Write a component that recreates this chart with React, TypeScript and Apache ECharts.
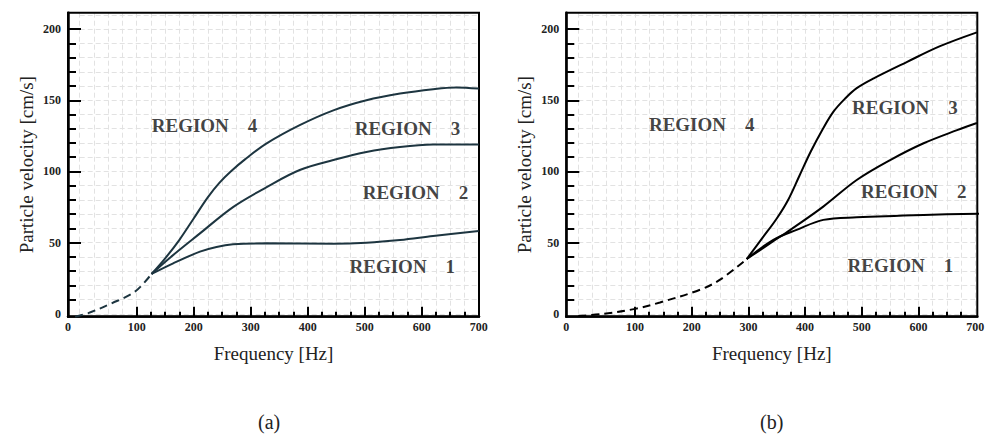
import React, { useEffect, useRef } from "react";
import * as echarts from "echarts";

// ---- tick / label values ----
const xLabelValues = [100, 200, 300, 400, 500, 600, 700];
const xMajorTicks = [100, 200, 300, 400, 500, 600];
const xMinorTicks = [125, 150, 175, 225, 250, 275, 325, 350, 375, 425, 450, 475, 525, 550, 575, 625, 650, 675];
const yLabelValues = [0, 50, 100, 150, 200];
const yMajorTicks = [50, 100, 150, 200];
const yMinorTicks = [10, 20, 30, 40, 60, 70, 80, 90, 110, 120, 130, 140, 160, 170, 180, 190];

const regionNames = ["REGION    1", "REGION    2", "REGION    3", "REGION    4"];

// ---- chart (a) ----
const aDashed = [[-8, -2], [15, 0.5], [56, 7.4], [97, 15.6], [126, 28]];
const aCurve1 = [[126, 28], [164, 35.5], [211, 43.7], [240, 47], [269, 48.8], [328, 49.5], [445, 49.3], [503, 50], [562, 51.9], [620, 54.7], [700, 58.2]];
const aCurve2 = [[126, 28], [160, 40], [211, 56.5], [269, 75], [328, 89], [386, 101], [445, 108], [503, 113.7], [562, 117.2], [620, 118.9], [700, 119]];
const aCurve3 = [[126, 28], [150, 39], [175, 52], [200, 67], [225, 82], [245, 92], [265, 100], [290, 108.5], [328, 119.7], [386, 132.5], [445, 142.9], [503, 150], [562, 154.7], [620, 157.8], [660, 159], [700, 158.2]];
const aRegionPos = [[566, 33.6], [589, 85], [575, 130.5], [219, 132]];

// ---- chart (b) ----
const bDashed = [[0, -1.5], [44, 0], [100, 3.5], [144, 8], [215, 17], [250, 24], [297, 38.5]];
const bCurve1 = [[297, 38.5], [344, 52], [385, 59], [432, 66], [491, 67.8], [609, 69.5], [712, 70.3]];
const bCurve2 = [[297, 38.5], [340, 50], [374, 59], [432, 75.3], [491, 94], [550, 108], [609, 119.8], [668, 129], [703, 134]];
const bCurve3 = [[297, 38.5], [326, 54], [350, 67], [370, 80], [390, 97], [410, 114], [430, 129], [450, 142], [470, 151], [491, 158.5], [521, 165.4], [580, 177], [638, 188], [703, 197.7]];
const bRegionPos = [[568, 33.8], [591.5, 85.8], [576, 144.8], [217.6, 132.7]];

const FONT = "'Liberation Serif', 'Times New Roman', serif";
const Y_MIN = -2;
const Y_MAX = 211.5;
const BOX_TOP = 12.7;
const BOX_H = 304;
const BOX_W = 411;

type Cfg = {
  left: number;
  xMin: number;
  xMax: number;
  color: string;
  dashed: number[][];
  curves: number[][][];
  regionPos: number[][];
};

function build(k: number, cfg: Cfg) {
  const pxX = BOX_W / (cfg.xMax - cfg.xMin);
  const pxY = BOX_H / (Y_MAX - Y_MIN);
  const grid = [
    {
      left: cfg.left, top: BOX_TOP, width: BOX_W, height: BOX_H, z: 2,
      show: true, borderColor: "#000", borderWidth: 2, backgroundColor: "transparent",
      containLabel: false, outerBoundsMode: "none",
    },
    {
      left: cfg.left + -cfg.xMin * pxX, top: BOX_TOP, width: cfg.xMax * pxX, height: Y_MAX * pxY,
      show: false, containLabel: false, outerBoundsMode: "none",
    },
    {
      left: cfg.left, top: BOX_TOP, width: BOX_W, height: BOX_H,
      show: false, containLabel: false, outerBoundsMode: "none",
    },
  ];
  const g = 3 * k;
  const labelStyle = { fontFamily: FONT, fontWeight: "bold", fontSize: 12, color: "#222" };
  const split = { show: true, lineStyle: { color: "#e2e2e2", type: [5, 3], width: 1 } };
  const xAxis = [
    {
      gridIndex: g, type: "value", min: cfg.xMin, max: cfg.xMax, z: 3,
      axisLine: { show: true, onZero: false, lineStyle: { color: "#000", width: 2.5 } },
      axisTick: { show: true, inside: true, length: 10, customValues: xMajorTicks, lineStyle: { color: "#000", width: 2 } },
      axisLabel: { ...labelStyle, margin: 4, customValues: [cfg.xMin, ...xLabelValues], formatter: (v: number) => (v < 50 ? "0" : String(v)) },
      splitLine: { show: false },
      name: "Frequency [Hz]", nameLocation: "middle", nameGap: 27,
      nameTextStyle: { fontFamily: FONT, fontSize: 19, color: "#222" },
    },
    {
      gridIndex: g + 1, type: "value", min: 0, max: cfg.xMax, interval: 25, z: -1,
      axisLine: { show: false, onZero: false }, axisTick: { show: false }, axisLabel: { show: false }, splitLine: split,
    },
    {
      gridIndex: g + 2, type: "value", min: cfg.xMin, max: cfg.xMax, z: 3,
      axisLine: { show: false, onZero: false },
      axisTick: { show: true, inside: true, length: 5, customValues: xMinorTicks, lineStyle: { color: "#000", width: 2 } },
      axisLabel: { show: false }, splitLine: { show: false },
    },
  ];
  const yAxis = [
    {
      gridIndex: g, type: "value", min: Y_MIN, max: Y_MAX, z: 3,
      axisLine: { show: true, onZero: false, lineStyle: { color: "#000", width: 2.5 } },
      axisTick: { show: true, inside: true, length: 13, customValues: yMajorTicks, lineStyle: { color: "#000", width: 2 } },
      axisLabel: { ...labelStyle, margin: 7, customValues: yLabelValues },
      splitLine: { show: false },
      name: "Particle velocity [cm/s]", nameLocation: "middle", nameGap: 32, nameRotate: 90,
      nameTextStyle: { fontFamily: FONT, fontSize: 19, color: "#222" },
    },
    {
      gridIndex: g + 1, type: "value", min: 0, max: Y_MAX, interval: 10, z: -1,
      axisLine: { show: false, onZero: false }, axisTick: { show: false }, axisLabel: { show: false }, splitLine: split,
    },
    {
      gridIndex: g + 2, type: "value", min: Y_MIN, max: Y_MAX, z: 3,
      axisLine: { show: false, onZero: false },
      axisTick: { show: true, inside: true, length: 8, customValues: yMinorTicks, lineStyle: { color: "#000", width: 2 } },
      axisLabel: { show: false }, splitLine: { show: false },
    },
  ];
  const lineBase = {
    type: "line", xAxisIndex: g, yAxisIndex: g, symbol: "none", smooth: 0.35,
    silent: true, z: 5, clip: false,
  };
  const series: any[] = [
    { ...lineBase, data: cfg.dashed, clip: true, lineStyle: { color: cfg.color, width: 2, type: [8, 5] } },
    ...cfg.curves.map((c) => ({ ...lineBase, data: c, lineStyle: { color: cfg.color, width: 2 } })),
    {
      type: "scatter", xAxisIndex: g, yAxisIndex: g, symbolSize: 1, silent: true, z: 6,
      itemStyle: { color: "rgba(0,0,0,0)" },
      data: cfg.regionPos.map((p, i) => ({ value: p, label: { formatter: regionNames[i] } })),
      label: { show: true, position: "inside", fontFamily: FONT, fontWeight: "bold", fontSize: 19, color: "#111" },
    },
  ];
  return { grid, xAxis, yAxis, series };
}

export default function App() {
  const ref = useRef<HTMLDivElement>(null);
  useEffect(() => {
    if (!ref.current) return;
    const chart = echarts.init(ref.current, undefined, { renderer: "svg" });
    const a = build(0, {
      left: 68, xMin: -20.5, xMax: 700.5, color: "#1d3540",
      dashed: aDashed, curves: [aCurve1, aCurve2, aCurve3], regionPos: aRegionPos,
    });
    const b = build(1, {
      left: 566.3, xMin: -21.2, xMax: 703.7, color: "#000",
      dashed: bDashed, curves: [bCurve1, bCurve2, bCurve3], regionPos: bRegionPos,
    });
    chart.setOption({
      animation: false,
      backgroundColor: "#fff",
      grid: [...a.grid, ...b.grid],
      xAxis: [...a.xAxis, ...b.xAxis],
      yAxis: [...a.yAxis, ...b.yAxis],
      series: [...a.series, ...b.series],
      graphic: [
        { type: "text", left: 258, top: 412, style: { text: "(a)", fontFamily: FONT, fontSize: 20, fill: "#222" } },
        { type: "text", left: 760, top: 412, style: { text: "(b)", fontFamily: FONT, fontSize: 20, fill: "#222" } },
      ],
    } as any);
    return () => chart.dispose();
  }, []);
  return <div ref={ref} style={{ position: "absolute", left: 0, top: 0, width: 986, height: 437 }} />;
}
